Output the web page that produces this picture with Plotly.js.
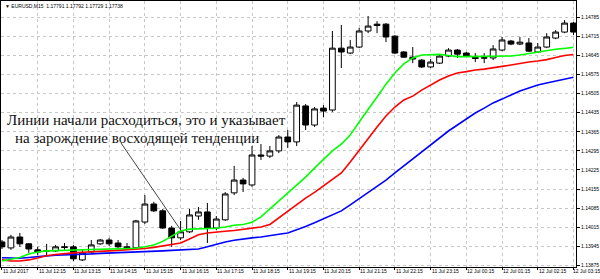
<!DOCTYPE html>
<html><head><meta charset="utf-8">
<script src="https://cdn.plot.ly/plotly-3.0.1.min.js"></script>
<style>html,body{margin:0;padding:0;background:#fff}#chart{width:600px;height:279px}</style>
</head><body><div id="chart"></div>
<script>
const times = [
'2017-07-11 11:15','2017-07-11 11:30','2017-07-11 11:45','2017-07-11 12:00',
'2017-07-11 12:15','2017-07-11 12:30','2017-07-11 12:45','2017-07-11 13:00',
'2017-07-11 13:15','2017-07-11 13:30','2017-07-11 13:45','2017-07-11 14:00',
'2017-07-11 14:15','2017-07-11 14:30','2017-07-11 14:45','2017-07-11 15:00',
'2017-07-11 15:15','2017-07-11 15:30','2017-07-11 15:45','2017-07-11 16:00',
'2017-07-11 16:15','2017-07-11 16:30','2017-07-11 16:45','2017-07-11 17:00',
'2017-07-11 17:15','2017-07-11 17:30','2017-07-11 17:45','2017-07-11 18:00',
'2017-07-11 18:15','2017-07-11 18:30','2017-07-11 18:45','2017-07-11 19:00',
'2017-07-11 19:15','2017-07-11 19:30','2017-07-11 19:45','2017-07-11 20:00',
'2017-07-11 20:15','2017-07-11 20:30','2017-07-11 20:45','2017-07-11 21:00',
'2017-07-11 21:15','2017-07-11 21:30','2017-07-11 21:45','2017-07-11 22:00',
'2017-07-11 22:15','2017-07-11 22:30','2017-07-11 22:45','2017-07-11 23:00',
'2017-07-11 23:15','2017-07-11 23:30','2017-07-11 23:45','2017-07-12 00:00',
'2017-07-12 00:15','2017-07-12 00:30','2017-07-12 00:45','2017-07-12 01:00',
'2017-07-12 01:15','2017-07-12 01:30','2017-07-12 01:45','2017-07-12 02:00',
'2017-07-12 02:15','2017-07-12 02:30','2017-07-12 02:45','2017-07-12 03:00',
'2017-07-12 03:15'];

const openP = [1.13961,1.13939,1.13979,1.13954,1.13932,1.13927,1.13928,1.13943,1.13943,1.13895,
1.13924,1.13954,1.13968,1.13957,1.13943,1.13939,1.14034,1.14100,1.14075,1.14012,
1.13976,1.13998,1.14056,1.14071,1.14012,1.14042,1.14141,1.14188,1.14170,1.14280,
1.14276,1.14295,1.14346,1.14328,1.14460,1.14390,1.14452,1.14445,1.14672,1.14654,
1.14676,1.14735,1.14760,1.14760,1.14716,1.14658,1.14639,1.14628,1.14603,1.14617,
1.14643,1.14665,1.14654,1.14638,1.14635,1.14636,1.14665,1.14698,1.14687,1.14691,
1.14658,1.14676,1.14709,1.14731,1.14764];
const highP = [1.13968,1.13987,1.13994,1.13957,1.13943,1.13954,1.13950,1.13957,1.13950,1.13935,
1.13968,1.13972,1.13976,1.13968,1.13957,1.14042,1.14133,1.14108,1.14082,1.14020,
1.14038,1.14082,1.14089,1.14104,1.14056,1.14144,1.14240,1.14196,1.14313,1.14320,
1.14313,1.14353,1.14372,1.14474,1.14467,1.14456,1.14463,1.14735,1.14757,1.14702,
1.14746,1.14790,1.14771,1.14764,1.14720,1.14661,1.14676,1.14632,1.14632,1.14647,
1.14672,1.14669,1.14658,1.14654,1.14654,1.14683,1.14713,1.14702,1.14713,1.14709,
1.14691,1.14727,1.14738,1.14775,1.14768];
const lowP = [1.13935,1.13932,1.13943,1.13921,1.13913,1.13910,1.13924,1.13932,1.13891,1.13891,
1.13921,1.13950,1.13946,1.13939,1.13932,1.13935,1.14027,1.14071,1.14009,1.13943,
1.13968,1.13994,1.14042,1.13957,1.14005,1.14038,1.14133,1.14144,1.14163,1.14262,
1.14269,1.14287,1.14306,1.14313,1.14372,1.14383,1.14419,1.14438,1.14599,1.14650,
1.14672,1.14727,1.14727,1.14694,1.14650,1.14636,1.14617,1.14599,1.14599,1.14614,
1.14639,1.14636,1.14639,1.14621,1.14617,1.14628,1.14661,1.14683,1.14683,1.14658,
1.14654,1.14672,1.14705,1.14727,1.14720];
const closeP = [1.13943,1.13979,1.13954,1.13935,1.13924,1.13929,1.13943,1.13941,1.13899,1.13921,
1.13950,1.13968,1.13954,1.13943,1.13935,1.14038,1.14100,1.14075,1.14012,1.13976,
1.13998,1.14060,1.14071,1.14012,1.14045,1.14137,1.14188,1.14174,1.14280,1.14276,
1.14295,1.14346,1.14328,1.14463,1.14390,1.14449,1.14441,1.14672,1.14658,1.14676,
1.14735,1.14753,1.14755,1.14713,1.14654,1.14639,1.14632,1.14603,1.14621,1.14643,
1.14665,1.14650,1.14643,1.14634,1.14637,1.14669,1.14702,1.14687,1.14694,1.14661,
1.14676,1.14713,1.14731,1.14764,1.14731];

const maFast = [1.13891,1.13897,1.13904,1.13917,1.13924,1.13928,1.13929,1.13930,1.13931,1.13931,
1.13932,1.13933,1.13934,1.13935,1.13935,1.13938,1.13943,1.13950,1.13963,1.13983,
1.14001,1.14008,1.14009,1.14009,1.14011,1.14016,1.14022,1.14025,1.14033,1.14053,
1.14082,1.14111,1.14141,1.14170,1.14199,1.14232,1.14265,1.14295,1.14320,1.14353,
1.14401,1.14445,1.14493,1.14540,1.14581,1.14614,1.14636,1.14647,1.14649,1.14649,
1.14645,1.14641,1.14641,1.14641,1.14641,1.14641,1.14642,1.14643,1.14647,1.14652,
1.14659,1.14663,1.14668,1.14671,1.14675];
const maMid = [1.13895,1.13891,1.13891,1.13895,1.13902,1.13910,1.13915,1.13919,1.13921,1.13923,
1.13924,1.13926,1.13928,1.13930,1.13932,1.13934,1.13937,1.13941,1.13946,1.13950,
1.13957,1.13972,1.13987,1.13994,1.13998,1.14000,1.14003,1.14008,1.14011,1.14016,
1.14025,1.14049,1.14075,1.14100,1.14122,1.14143,1.14166,1.14188,1.14214,1.14254,
1.14298,1.14342,1.14383,1.14423,1.14456,1.14482,1.14496,1.14518,1.14537,1.14555,
1.14570,1.14581,1.14586,1.14592,1.14595,1.14599,1.14605,1.14610,1.14616,1.14621,
1.14625,1.14630,1.14638,1.14645,1.14649];
const maSlow = [1.13903,1.13901,1.13901,1.13904,1.13908,1.13910,1.13912,1.13913,1.13913,1.13915,
1.13917,1.13919,1.13920,1.13921,1.13922,1.13923,1.13924,1.13926,1.13928,1.13930,
1.13932,1.13934,1.13935,1.13943,1.13952,1.13961,1.13967,1.13972,1.13976,1.13979,
1.13983,1.13989,1.13994,1.14005,1.14018,1.14031,1.14045,1.14060,1.14075,1.14097,
1.14119,1.14141,1.14163,1.14188,1.14214,1.14240,1.14265,1.14291,1.14317,1.14342,
1.14368,1.14390,1.14412,1.14434,1.14452,1.14471,1.14485,1.14500,1.14515,1.14526,
1.14537,1.14544,1.14551,1.14559,1.14565];

const yTickVals = [1.13875,1.13945,1.14015,1.14085,1.14155,1.14225,1.14295,1.14365,1.14435,1.14505,1.14575,1.14645,1.14715,1.14785];
const xTickVals = ['2017-07-11 11:15','2017-07-11 12:15','2017-07-11 13:15','2017-07-11 14:15','2017-07-11 15:15',
'2017-07-11 16:15','2017-07-11 17:15','2017-07-11 18:15','2017-07-11 19:15','2017-07-11 20:15','2017-07-11 21:15',
'2017-07-11 22:15','2017-07-11 23:15','2017-07-12 00:15','2017-07-12 01:15','2017-07-12 02:15','2017-07-12 03:15'];
const xTickText = ['11 Jul 2017','11 Jul 12:15','11 Jul 13:15','11 Jul 14:15','11 Jul 15:15',
'11 Jul 16:15','11 Jul 17:15','11 Jul 18:15','11 Jul 19:15','11 Jul 20:15','11 Jul 21:15',
'11 Jul 22:15','11 Jul 23:15','12 Jul 00:15','12 Jul 01:15','12 Jul 02:15','12 Jul 03:15'];
const headerText = '\u25BC EURUSD,M15  1.17791 1.17792 1.17729 1.17738';
const noteLine1 = 'Линии начали расходиться, это и указывает';
const noteLine2 = 'на зарождение восходящей тенденции';

const smallFont = {family: 'Liberation Sans, Arial, sans-serif', size: 5, color: '#000'};

const traces = [
  {type:'scatter', mode:'lines', x: times, y: maSlow, line:{color:'#0000ff', width:1.6}, hoverinfo:'skip'},
  {type:'scatter', mode:'lines', x: times, y: maMid, line:{color:'#ff0000', width:1.6}, hoverinfo:'skip'},
  {type:'scatter', mode:'lines', x: times, y: maFast, line:{color:'#00ff00', width:1.6}, hoverinfo:'skip'},
  {type:'candlestick', x: times, open: openP, high: highP, low: lowP, close: closeP,
   whiskerwidth: 0,
   increasing:{line:{color:'#000', width:1}, fillcolor:'#ffffff'},
   decreasing:{line:{color:'#000', width:1}, fillcolor:'#000000'},
   hoverinfo:'skip'}
];

// x tick labels, left-aligned at their tick like the terminal draws them
const lastIdx = xTickVals.length - 1;
const xLabelAnns = xTickVals.map((t, k) => ({
  xref:'x', yref:'paper', x: t, y: -0.0135, xanchor:'left', yanchor:'middle',
  xshift: (k === lastIdx ? -2 : 0), borderpad: 0,
  text: xTickText[k], showarrow:false, font: smallFont
}));

const layout = {
  width: 600, height: 279,
  margin: {l:1, r:24, t:1, b:12, pad:0},
  paper_bgcolor:'#fff', plot_bgcolor:'#fff',
  showlegend: false,
  boxgap: 0.2, boxgroupgap: 0.2,
  xaxis: {
    type:'date', range:['2017-07-11 11:13:20','2017-07-12 03:19:12'],
    rangeslider:{visible:false},
    tickmode:'array', tickvals: xTickVals, ticktext: xTickText,
    showticklabels:false,
    ticks:'outside', ticklen:2, tickcolor:'#000', tickwidth:1,
    showgrid:true, gridcolor:'#c8c8c8', griddash:'dot', gridwidth:1,
    showline:true, mirror:true, linecolor:'#000', linewidth:1,
    zeroline:false, fixedrange:true
  },
  yaxis: {
    side:'right', range:[1.13869, 1.14845],
    tickmode:'array', tickvals: yTickVals, tickformat:'.5f',
    ticks:'outside', ticklen:3, tickcolor:'#000', tickwidth:1,
    tickfont: smallFont,
    showgrid:true, gridcolor:'#c8c8c8', griddash:'dot', gridwidth:1,
    showline:true, mirror:true, linecolor:'#000', linewidth:1,
    zeroline:false, fixedrange:true
  },
  annotations: [
    {xref:'paper', yref:'paper', x:0.004, y:0.983, xanchor:'left', yanchor:'middle',
     text: headerText, showarrow:false, font:{family:'Liberation Sans, Arial, sans-serif', size:5, color:'#000'}},
    {xref:'paper', yref:'paper', x:0.007, y:0.5526, xanchor:'left', yanchor:'middle',
     text: noteLine1, showarrow:false, font:{family:'Liberation Serif, serif', size:15, color:'#111'}},
    {xref:'paper', yref:'paper', x:0.0209, y:0.485, xanchor:'left', yanchor:'middle',
     text: noteLine2, showarrow:false, font:{family:'Liberation Serif, serif', size:15, color:'#111'}}
  ].concat(xLabelAnns),
  shapes: [
    {type:'line', xref:'paper', yref:'paper', x0:0.2087, y0:0.4662, x1:0.3113, y1:0.1429,
     line:{color:'#444', width:1}}
  ]
};

Plotly.newPlot('chart', traces, layout, {displayModeBar:false, staticPlot:true});
</script>
</body></html>
